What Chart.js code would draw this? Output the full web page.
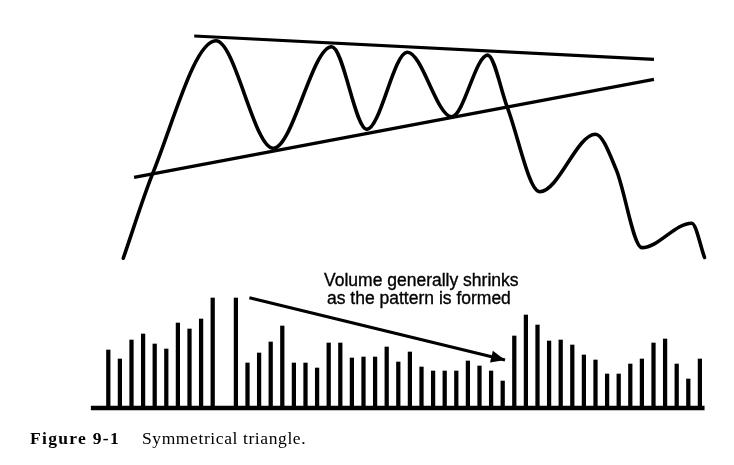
<!DOCTYPE html>
<html>
<head>
<meta charset="utf-8">
<script src="https://cdn.jsdelivr.net/npm/chart.js@4/dist/chart.umd.min.js"></script>
<style>
  html, body { margin: 0; padding: 0; background: #fff; }
  #wrap { position: relative; width: 734px; height: 465px; overflow: hidden; }
  canvas { position: absolute; left: 0; top: 0; }
  .note { position: absolute; font-family: "Liberation Sans", Arial, sans-serif; font-size: 17.5px; color: #000; white-space: nowrap; line-height: 18px; -webkit-text-stroke: 0.35px #000; }
  .cap { position: absolute; left: 30px; top: 429px; font-family: "Liberation Serif", "Times New Roman", serif; font-size: 17.5px; color: #000; white-space: nowrap; line-height: 19px; }
  .cap b { letter-spacing: 1.3px; margin-right: 22px; }
  .cap span { letter-spacing: 0.6px; }
</style>
</head>
<body>
<div id="wrap">
  <canvas id="c" width="734" height="465"></canvas>
  <div class="note" style="left:324px; top:271px;">Volume generally shrinks</div>
  <div class="note" style="left:327px; top:289px;">as the pattern is formed</div>
  <div class="cap"><b>Figure 9-1</b><span>Symmetrical triangle.</span></div>
</div>
<script>
// Volume bars, one per session (index = session number); session 10 has no bar
const volumes = [58, 49, 68, 74, 64, 59, 85, 79, 89, 110, null,
                 110, 45, 55, 66, 82, 45, 45, 40, 65, 65,
                 50, 51, 51, 61, 46, 56, 41, 37, 37, 37,
                 47, 42, 37, 27, 72, 93, 83, 67, 68, 63,
                 53, 48, 34, 34, 44, 49, 65, 69, 44, 29, 49];

// Price path: session positions and prices (turning points of the wave)
const priceTime  = [1.29, 3.83, 9.28, 14.22, 19.26, 22.28, 25.78, 29.6, 32.7, 34.4, 37.2, 42.0, 43.8, 46.0, 50.3, 51.4];
const priceValue = [36.7, 57.5, 90.0, 63.65, 88.55, 68.3, 87.2, 71.4, 86.5, 73.7, 53.0, 67.1, 58.3, 39.3, 45.3, 36.9];

// Triangle boundaries (session, price)
const upperLineTime  = [7.41, 47.04];
const upperLineValue = [91.18, 85.47];
const lowerLineTime  = [2.22, 47.04];
const lowerLineValue = [56.54, 80.56];

// Annotation arrow (session, volume)
const arrowTime   = [12.16, 34.2];
const arrowVolume = [110.3, 48];

// Volume baseline extent (sessions)
const baseTime = [-1.5, 51.4];

const pts = (xs, ys) => xs.map((x, i) => ({ x: x, y: ys[i] }));

const arrowHead = {
  id: 'arrowHead',
  afterDatasetsDraw(chart) {
    const xs = chart.scales.x, ys = chart.scales.yVol, ctx = chart.ctx;
    const x0 = xs.getPixelForValue(arrowTime[0]), y0 = ys.getPixelForValue(arrowVolume[0]);
    const x1 = xs.getPixelForValue(arrowTime[1]), y1 = ys.getPixelForValue(arrowVolume[1]);
    const a = Math.atan2(y1 - y0, x1 - x0);
    const L = 14, W = 6;
    ctx.save();
    ctx.fillStyle = '#000';
    ctx.beginPath();
    ctx.moveTo(x1, y1);
    ctx.lineTo(x1 - L * Math.cos(a) + W * Math.sin(a), y1 - L * Math.sin(a) - W * Math.cos(a));
    ctx.lineTo(x1 - L * Math.cos(a) - W * Math.sin(a), y1 - L * Math.sin(a) + W * Math.cos(a));
    ctx.closePath();
    ctx.fill();
    ctx.restore();
  }
};

new Chart(document.getElementById('c'), {
  data: {
    datasets: [
      {
        type: 'bar',
        data: volumes.map((v, i) => ({ x: i, y: v })).filter(d => d.y !== null),
        yAxisID: 'yVol',
        backgroundColor: '#000',
        borderWidth: 0,
        barThickness: 3.6
      },
      {
        type: 'line',
        data: pts(baseTime, [0, 0]),
        yAxisID: 'yVol',
        borderColor: '#000',
        borderWidth: 4.5,
        pointRadius: 0,
        clip: false
      },
      {
        type: 'line',
        data: pts(priceTime, priceValue),
        yAxisID: 'yPrice',
        borderColor: '#000',
        borderWidth: 3.6,
        pointRadius: 0,
        cubicInterpolationMode: 'monotone',
        borderCapStyle: 'round',
        borderJoinStyle: 'round'
      },
      {
        type: 'line',
        data: pts(upperLineTime, upperLineValue),
        yAxisID: 'yPrice',
        borderColor: '#000',
        borderWidth: 3.2,
        pointRadius: 0
      },
      {
        type: 'line',
        data: pts(lowerLineTime, lowerLineValue),
        yAxisID: 'yPrice',
        borderColor: '#000',
        borderWidth: 3.2,
        pointRadius: 0
      },
      {
        type: 'line',
        data: pts(arrowTime, arrowVolume),
        yAxisID: 'yVol',
        borderColor: '#000',
        borderWidth: 3.2,
        pointRadius: 0
      }
    ]
  },
  options: {
    responsive: false,
    animation: false,
    layout: { padding: { left: 0, right: 0, top: 0, bottom: 57 } },
    plugins: { legend: { display: false }, tooltip: { enabled: false }, title: { display: false } },
    scales: {
      x: { type: 'linear', min: -9.336, max: 53.94, display: false, offset: false },
      yPrice: { type: 'linear', min: 0, max: 100, display: false },
      yVol: { type: 'linear', min: 0, max: 408, display: false }
    }
  },
  plugins: [arrowHead]
});
</script>
</body>
</html>
